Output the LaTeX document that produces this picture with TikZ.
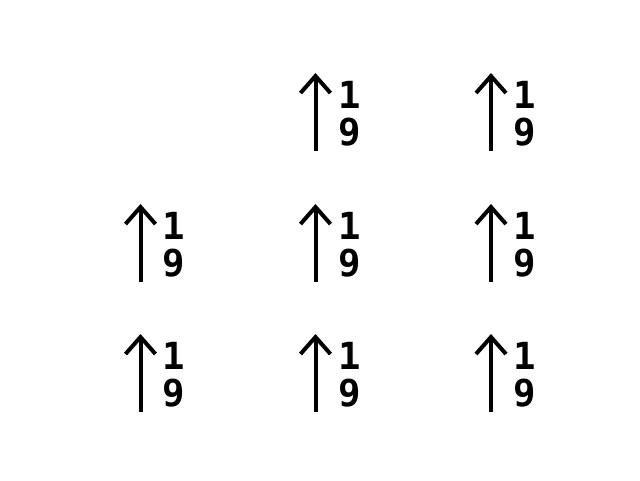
\documentclass[tikz,border=0pt]{standalone}
\usepackage{fontspec}
\setmonofont{DejaVu Sans Mono}
\usetikzlibrary{arrows.meta}

\tikzset{
  vec/.style={line width=3pt, -{Straight Barb[length=12.75pt, width=22.5pt, line join=miter, line cap=butt]}},
  digit/.style={anchor=base, inner sep=0pt, font=\ttfamily\bfseries\fontsize{28}{28}\selectfont}
}

\begin{document}
\begin{tikzpicture}[x=0.75pt,y=0.75pt,yscale=-1,xscale=1]
		\useasboundingbox (0,0) rectangle (640,480);
		
		%Arrow row 1, col 2
		\coordinate (b12) at (315.5,151);
		\coordinate (t12) at (315.5,73);
		\draw [vec] (b12) -- (t12);
		% Text Node
		\node (n12) [digit] at (349.5,108) {1};
		% Text Node
		\node (d12) [digit] at (349.5,145.5) {9};
		
		%Arrow row 1, col 3
		\coordinate (b13) at (491,151);
		\coordinate (t13) at (491,73);
		\draw [vec] (b13) -- (t13);
		% Text Node
		\node (n13) [digit] at (525,108) {1};
		% Text Node
		\node (d13) [digit] at (525,145.5) {9};
		
		%Arrow row 2, col 1
		\coordinate (b21) at (140.5,282);
		\coordinate (t21) at (140.5,204);
		\draw [vec] (b21) -- (t21);
		% Text Node
		\node (n21) [digit] at (174,239) {1};
		% Text Node
		\node (d21) [digit] at (174,276.5) {9};
		
		%Arrow row 2, col 2
		\coordinate (b22) at (315.5,282);
		\coordinate (t22) at (315.5,204);
		\draw [vec] (b22) -- (t22);
		% Text Node
		\node (n22) [digit] at (349.5,239) {1};
		% Text Node
		\node (d22) [digit] at (349.5,276.5) {9};
		
		%Arrow row 2, col 3
		\coordinate (b23) at (491,282);
		\coordinate (t23) at (491,204);
		\draw [vec] (b23) -- (t23);
		% Text Node
		\node (n23) [digit] at (525,239) {1};
		% Text Node
		\node (d23) [digit] at (525,276.5) {9};
		
		%Arrow row 3, col 1
		\coordinate (b31) at (140.5,412);
		\coordinate (t31) at (140.5,334);
		\draw [vec] (b31) -- (t31);
		% Text Node
		\node (n31) [digit] at (174,369) {1};
		% Text Node
		\node (d31) [digit] at (174,406.5) {9};
		
		%Arrow row 3, col 2
		\coordinate (b32) at (315.5,412);
		\coordinate (t32) at (315.5,334);
		\draw [vec] (b32) -- (t32);
		% Text Node
		\node (n32) [digit] at (349.5,369) {1};
		% Text Node
		\node (d32) [digit] at (349.5,406.5) {9};
		
		%Arrow row 3, col 3
		\coordinate (b33) at (491,412);
		\coordinate (t33) at (491,334);
		\draw [vec] (b33) -- (t33);
		% Text Node
		\node (n33) [digit] at (525,369) {1};
		% Text Node
		\node (d33) [digit] at (525,406.5) {9};
		
	\end{tikzpicture}
\end{document}
